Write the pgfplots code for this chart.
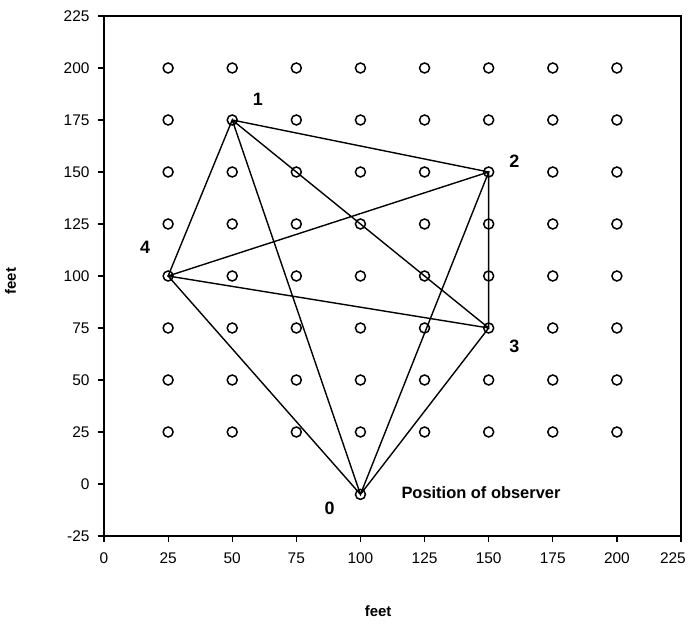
\documentclass[border=0pt]{standalone}
\usepackage{pgfplots}
\pgfplotsset{compat=1.18}
\usepackage{fontspec}
\setmainfont{Liberation Sans}
\begin{document}
\begin{tikzpicture}[x=1bp,y=1bp]
% fixed page frame around the axis
\path[use as bounding box] (-104,-88) rectangle (585,536);
\begin{axis}[
  at={(0,0)}, anchor=south west,
  scale only axis, width=577bp, height=520bp,
  xmin=0, xmax=225, ymin=-25, ymax=225,
  xtick={0,25,...,225}, ytick={-25,0,...,225},
  xticklabels={0,25,50,75,100,125,150,175,200,{\makebox[42bp][l]{225}}},
  tick align=outside, tick pos=left,
  major tick length=6bp,
  axis line style={line width=1.4bp},
  every tick/.style={line width=1.2bp, black},
  /pgf/number format/assume math mode=true,
  ticklabel style={font=\fontsize{15.5}{17}\selectfont},
  xticklabel style={yshift=-7bp},
  yticklabel style={xshift=-5bp},
  xlabel={\bfseries feet}, ylabel={\bfseries feet},
  label style={font=\fontsize{15}{17}\selectfont},
  xlabel style={at={(axis description cs:0.475,-0.144)}, anchor=center},
  ylabel style={at={(axis description cs:-0.162,0.49)}, anchor=center},
  clip=false,
]
% sampling grid
\addplot[only marks, mark=o, mark size=5bp, line width=1.5bp, black] coordinates {
(25,200) (50,200) (75,200) (100,200) (125,200) (150,200) (175,200) (200,200)
(25,175) (50,175) (75,175) (100,175) (125,175) (150,175) (175,175) (200,175)
(25,150) (50,150) (75,150) (100,150) (125,150) (150,150) (175,150) (200,150)
(25,125) (50,125) (75,125) (100,125) (125,125) (150,125) (175,125) (200,125)
(25,100) (50,100) (75,100) (100,100) (125,100) (150,100) (175,100) (200,100)
(25,75) (50,75) (75,75) (100,75) (125,75) (150,75) (175,75) (200,75)
(25,50) (50,50) (75,50) (100,50) (125,50) (150,50) (175,50) (200,50)
(25,25) (50,25) (75,25) (100,25) (125,25) (150,25) (175,25) (200,25)
};
% observer
\addplot[only marks, mark=o, mark size=5bp, line width=1.5bp, black] coordinates {(100,-5)};
% sight lines between the five stations
\addplot[black, line width=1.4bp] coordinates {
(50,175) (150,150) (150,75) (25,100) (50,175) (100,-5) (150,150) (25,100) (100,-5) (150,75) (50,175)
};
\node[font=\fontsize{18}{20}\selectfont\bfseries] at (axis cs:60,185) {1};
\node[font=\fontsize{18}{20}\selectfont\bfseries] at (axis cs:160,155) {2};
\node[font=\fontsize{18}{20}\selectfont\bfseries] at (axis cs:160,66) {3};
\node[font=\fontsize{18}{20}\selectfont\bfseries] at (axis cs:16,114) {4};
\node[font=\fontsize{18}{20}\selectfont\bfseries] at (axis cs:88,-11.5) {0};
\node[font=\fontsize{16.5}{18}\selectfont\bfseries] at (axis cs:147,-4) {Position of observer};
\end{axis}
\end{tikzpicture}
\end{document}
